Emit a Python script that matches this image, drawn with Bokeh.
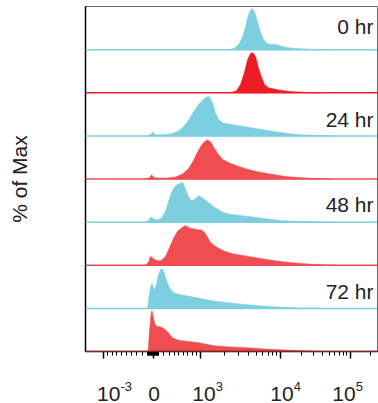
import math
from bokeh.plotting import figure
from bokeh.layouts import column
from bokeh.models import Range1d, FixedTicker, Span, CustomJSTickFormatter
from bokeh.core.properties import value
from bokeh.embed import file_html
from bokeh.resources import INLINE

# ---------------- data (x in display units of the biexponential axis) ----------------
TIME_LABELS = ["0 hr", "24 hr", "48 hr", "72 hr"]
MAJOR_VALUES = [-1000, 0, 1000, 10000, 100000]
MAJOR_BASES = ["10", "0", "10", "10", "10"]
MAJOR_EXPONENTS = ["-3", "", "3", "4", "5"]

H0_CYAN_X = [143, 149, 153, 157, 160, 163, 166, 169, 172, 175, 178, 181, 185, 190, 195, 202, 210, 225, 245]
H0_CYAN_Y = [0, 0.04, 0.12, 0.3, 0.55, 0.85, 1.0, 0.92, 0.68, 0.42, 0.25, 0.16, 0.13, 0.13, 0.09, 0.05, 0.03, 0.01, 0]

H0_RED_X = [145, 151, 155, 159, 162, 165, 167, 170, 173, 176, 179, 183, 189, 195, 205, 220, 235]
H0_RED_Y = [0, 0.05, 0.2, 0.5, 0.8, 0.95, 0.97, 0.88, 0.6, 0.38, 0.2, 0.12, 0.09, 0.06, 0.03, 0.01, 0]

H24_CYAN_X = [60, 65, 67, 70, 80, 87, 93, 98, 103, 108, 113, 117, 121, 124, 127, 130, 133, 137,
              145, 155, 165, 175, 185, 195, 205, 215, 230, 250]
H24_CYAN_Y = [0, 0.03, 0.1, 0.03, 0.03, 0.06, 0.12, 0.22, 0.38, 0.58, 0.76, 0.86, 0.94, 0.95, 0.8, 0.55, 0.4, 0.32,
              0.28, 0.24, 0.2, 0.16, 0.12, 0.08, 0.05, 0.03, 0.01, 0]

H24_RED_X = [60, 64, 66, 69, 80, 90, 97, 103, 108, 112, 116, 119, 122, 125, 128, 132, 137, 143,
             150, 160, 170, 180, 190, 200, 210, 225, 245]
H24_RED_Y = [0, 0.03, 0.1, 0.03, 0.02, 0.05, 0.12, 0.25, 0.45, 0.65, 0.82, 0.9, 0.95, 0.9, 0.78, 0.62, 0.48, 0.4,
             0.33, 0.25, 0.19, 0.14, 0.1, 0.06, 0.04, 0.02, 0]

H48_CYAN_X = [60, 63, 65.5, 68, 72, 76, 80, 83, 86, 90, 94, 97, 100, 103, 106, 109, 113, 116, 120, 124,
              128, 133, 138, 145, 155, 165, 175, 185, 195, 210, 230, 250]
H48_CYAN_Y = [0, 0.04, 0.13, 0.08, 0.05, 0.1, 0.27, 0.5, 0.72, 0.88, 0.93, 0.97, 0.8, 0.62, 0.52, 0.55, 0.64, 0.6,
              0.53, 0.45, 0.38, 0.3, 0.23, 0.19, 0.16, 0.13, 0.1, 0.07, 0.04, 0.02, 0.01, 0]

H48_RED_X = [60, 63, 65, 68, 72, 76, 80, 84, 88, 92, 96, 100, 104, 108, 112, 116, 119, 122, 125, 131,
             138, 147, 162, 178, 195, 212, 230, 250]
H48_RED_Y = [0, 0.08, 0.22, 0.16, 0.11, 0.12, 0.22, 0.42, 0.65, 0.82, 0.9, 0.96, 0.9, 0.88, 0.86, 0.85, 0.8, 0.68,
             0.55, 0.44, 0.35, 0.28, 0.22, 0.15, 0.09, 0.05, 0.02, 0]

H72_CYAN_X = [62, 63.5, 65, 66.5, 68, 69.5, 71, 73, 75, 76.5, 78.5, 81, 84, 88, 95, 102, 115, 128, 145,
              162, 180, 195, 215, 235]
H72_CYAN_Y = [0, 0.3, 0.5, 0.61, 0.5, 0.46, 0.6, 0.82, 0.94, 0.96, 0.88, 0.68, 0.5, 0.38, 0.33, 0.3, 0.24, 0.18,
              0.13, 0.09, 0.05, 0.03, 0.01, 0]

H72_RED_X = [62.5, 64, 65.5, 66.5, 68, 69.5, 72, 75, 78, 82, 87, 93, 103, 112, 120, 128, 145, 162, 180,
             195, 215, 235]
H72_RED_Y = [0, 0.5, 0.9, 0.99, 0.8, 0.66, 0.6, 0.6, 0.56, 0.48, 0.33, 0.27, 0.24, 0.22, 0.18, 0.14, 0.11, 0.09,
             0.06, 0.04, 0.02, 0]

CYAN = "#7DCFE0"
RED0 = "#EE1D25"
RED = "#F04D50"
TEXT = "#222222"
FONT = "Liberation Sans"

# lanes, top to bottom
LANES = [
    (H0_CYAN_X, H0_CYAN_Y, CYAN),
    (H0_RED_X, H0_RED_Y, RED0),
    (H24_CYAN_X, H24_CYAN_Y, CYAN),
    (H24_RED_X, H24_RED_Y, RED),
    (H48_CYAN_X, H48_CYAN_Y, CYAN),
    (H48_RED_X, H48_RED_Y, RED),
    (H72_CYAN_X, H72_CYAN_Y, CYAN),
    (H72_RED_X, H72_RED_Y, RED),
]


# biexponential-like display transform of the axis (value -> display unit)
def to_display(v):
    zero, pos_lin, neg_lin, w = 68.0, 46.5, 49.7, 1000.0
    if v >= 10000:
        return 195.0 + 69.5 * math.log10(v / 10000.0)
    if v >= 1000:
        return 114.5 + 80.5 * math.log10(v / 1000.0)
    if v >= 0:
        return zero + pos_lin * math.asinh(v / w) / math.asinh(1.0)
    return zero - neg_lin * math.asinh(-v / w) / math.asinh(1.0)


minor_values = ([-k * 100 for k in range(1, 10)] + [-k * 10 for k in range(1, 10)] +
                [k * 10 for k in range(1, 10)] + [k * 100 for k in range(1, 10)] +
                [k * 1000 for k in range(2, 10)] + [k * 10000 for k in range(2, 10)] + [200000])

major_ticks = [to_display(v) for v in MAJOR_VALUES]
minor_ticks = sorted(to_display(v) for v in minor_values)

xr = Range1d(0, 292)

p = figure(width=378, height=362, x_range=xr, y_range=Range1d(0, 8),
           output_backend="svg", toolbar_location=None,
           min_border_left=85, min_border_right=1, min_border_top=6, min_border_bottom=11)
p.xgrid.visible = False
p.ygrid.visible = False
p.outline_line_color = "#666666"
p.outline_line_width = 1
p.background_fill_color = "white"
p.border_fill_color = "white"

n = len(LANES)
scale = 0.96
for i, (xs, hs, color) in enumerate(LANES):
    base = n - 1 - i
    ys = [base + h * scale for h in hs]
    p.patch(xs, ys, fill_color=color, line_color=color, line_width=0.5)
    p.add_layout(Span(location=base, dimension="width", line_color=color, line_width=1.5))

p.text(x=[288] * 4, y=[7.54, 5.39, 3.41, 1.385], text=TIME_LABELS,
       text_align="right", text_baseline="middle",
       text_font=value(FONT), text_font_size="21px", text_color=TEXT)

# x axis (ticks); its labels are drawn in the strip below as base + superscript exponent
xa = p.xaxis[0]
xa.ticker = FixedTicker(ticks=major_ticks, minor_ticks=minor_ticks)
xa.formatter = CustomJSTickFormatter(code="return '';")
xa.axis_line_color = "black"
xa.axis_line_width = 1.5
xa.major_tick_line_color = "black"
xa.major_tick_line_width = 1.5
xa.minor_tick_line_color = "black"
xa.minor_tick_line_width = 1
xa.major_tick_in = 0
xa.major_tick_out = 7
xa.minor_tick_in = 0
xa.minor_tick_out = 4
xa.major_label_text_font_size = "1px"
xa.major_label_standoff = 0

# y axis
ya = p.yaxis[0]
ya.ticker = FixedTicker(ticks=[])
ya.major_tick_line_color = None
ya.minor_tick_line_color = None
ya.axis_line_color = "black"
ya.axis_line_width = 1.5
ya.axis_label = "% of Max"
ya.axis_label_text_font = FONT
ya.axis_label_text_font_size = "21px"
ya.axis_label_text_font_style = "normal"
ya.axis_label_text_color = TEXT
ya.axis_label_standoff = 55

# tick-label strip sharing the x range
q = figure(width=378, height=41, x_range=xr, y_range=Range1d(0, 41),
           output_backend="svg", toolbar_location=None,
           x_axis_location=None, y_axis_location=None,
           min_border_left=85, min_border_right=1, min_border_top=0, min_border_bottom=0)
q.xgrid.visible = False
q.ygrid.visible = False
q.outline_line_color = None
q.background_fill_color = "white"
q.border_fill_color = "white"

label_shift = [5, 0.5, 4, 1.5, -6]
base_x = [t + s for t, s in zip(major_ticks, label_shift)]
q.text(x=base_x, y=[10] * len(base_x), text=MAJOR_BASES, text_align="center",
       text_baseline="alphabetic", text_font=value(FONT), text_font_size="21px", text_color=TEXT)
exp_x = [bx + 11.7 for bx, e in zip(base_x, MAJOR_EXPONENTS) if e]
exp_t = [e for e in MAJOR_EXPONENTS if e]
q.text(x=exp_x, y=[17.5] * len(exp_x), text=exp_t, text_align="left",
       text_baseline="alphabetic", text_font=value(FONT), text_font_size="13px", text_color=TEXT)

open("out.html", "w").write(file_html(column(p, q, spacing=0), INLINE))
